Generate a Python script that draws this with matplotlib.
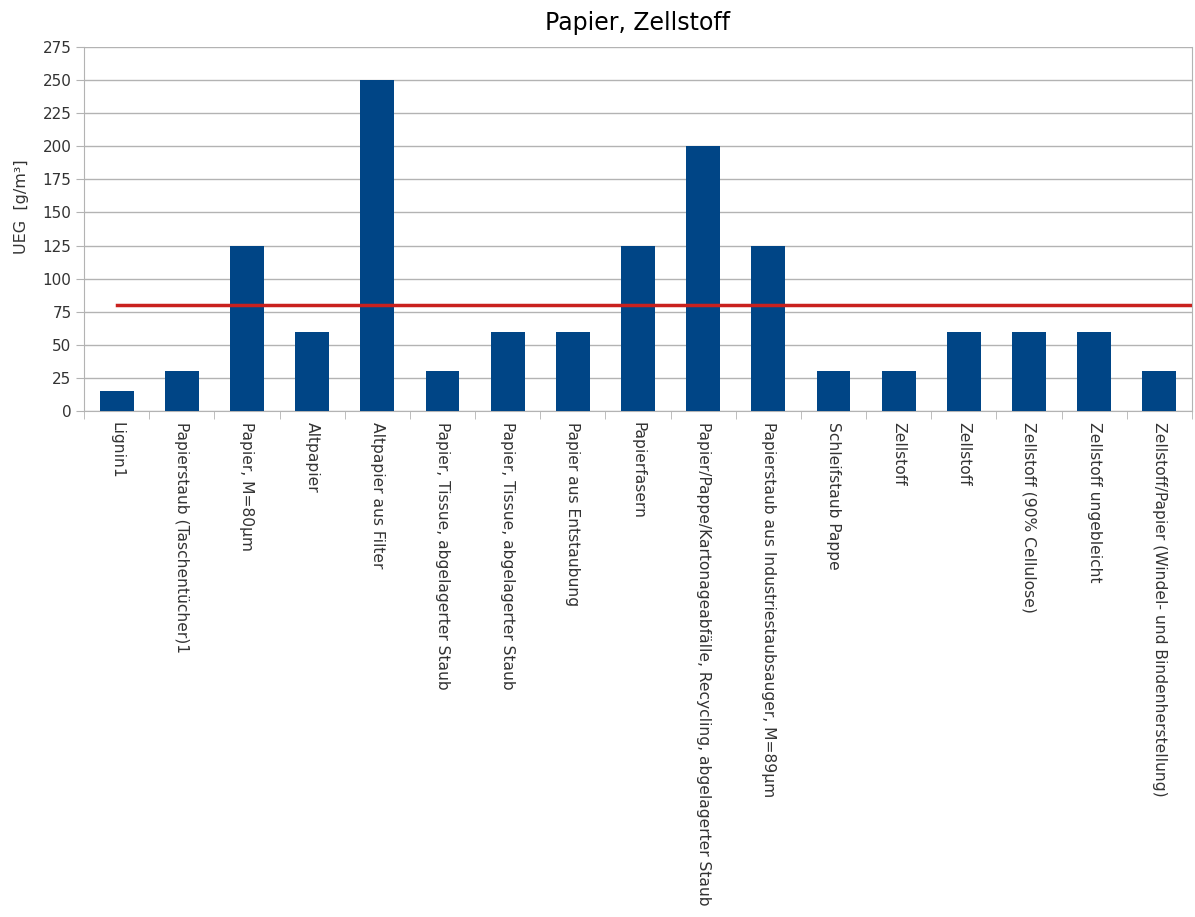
import numpy as np
import matplotlib.pyplot as plt

plt.rcParams['font.family'] = ['DejaVu Sans']

# data
stoffe = ["Lignin1", "Papierstaub (Taschentücher)1", "Papier, M=80µm", "Altpapier",
          "Altpapier aus Filter", "Papier, Tissue, abgelagerter Staub",
          "Papier, Tissue, abgelagerter Staub", "Papier aus Entstaubung",
          "Papierfasern", "Papier/Pappe/Kartonageabfälle, Recycling, abgelagerter Staub",
          "Papierstaub aus Industriestaubsauger, M=89µm", "Schleifstaub Pappe",
          "Zellstoff", "Zellstoff", "Zellstoff (90% Cellulose)", "Zellstoff ungebleicht",
          "Zellstoff/Papier (Windel- und Bindenherstellung)"]
ueg = [15, 30, 125, 60, 250, 30, 60, 60, 125, 200, 125, 30, 30, 60, 60, 60, 30]
grenzwert = 80

fig = plt.figure(figsize=(11.95, 9.17), dpi=100)
ax = fig.add_axes([0.0703, 0.5518, 0.9272, 0.3969])

x = np.arange(len(stoffe))
ax.bar(x, ueg, width=0.52, color='#004586', zorder=3)
ax.plot([0, len(stoffe) - 0.5], [grenzwert, grenzwert], color='#c9211e', lw=2.5, zorder=4)

ax.set_xlim(-0.5, len(stoffe) - 0.5)
ax.set_ylim(0, 275)
ax.set_yticks(np.arange(0, 276, 25))
ax.yaxis.grid(True, color='#b3b3b3', lw=1, zorder=0)

ax.set_xticks(x)
ax.set_xticklabels(stoffe, rotation=-90, ha='center', va='top', fontsize=11.2, color='#333333')
ax.tick_params(axis='x', length=0, pad=8)
ax.set_xticks(np.arange(-0.5, len(stoffe)), minor=True)
ax.tick_params(axis='x', which='minor', length=6, color='#b3b3b3')
ax.tick_params(axis='y', labelsize=11, labelcolor='#333333', length=6, color='#b3b3b3', pad=3)

for s in ax.spines.values():
    s.set_color('#b3b3b3')
ax.spines['top'].set_visible(False)

ax.set_ylabel("UEG  [g/m³]", fontsize=11.5, color='#333333')
ax.yaxis.set_label_coords(-0.05, 0.56)
ax.set_title("Papier, Zellstoff", fontsize=17, pad=12)

fig.savefig("out.png", dpi=100)
